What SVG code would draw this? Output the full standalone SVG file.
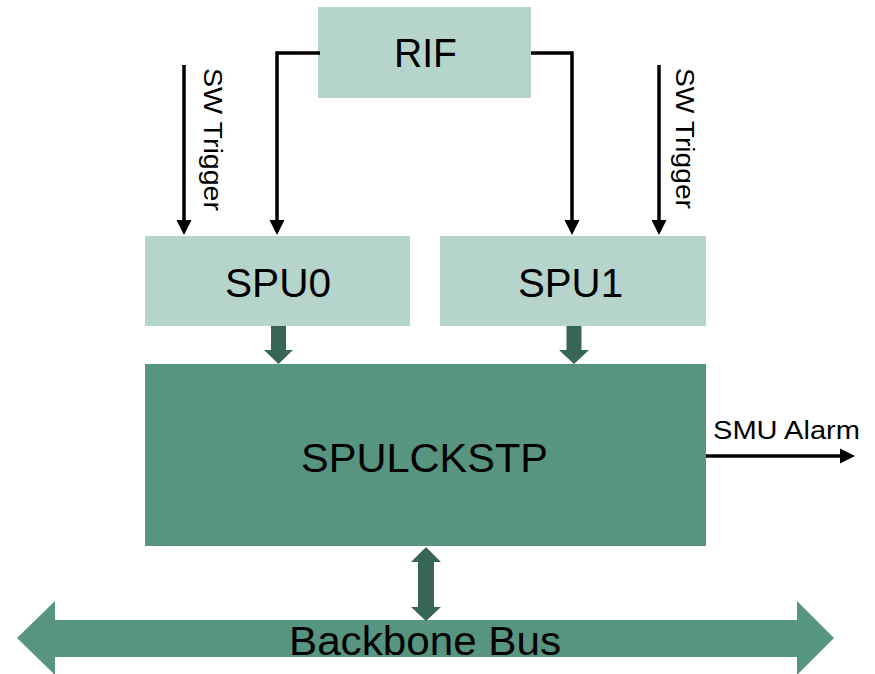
<svg xmlns="http://www.w3.org/2000/svg" width="875" height="674" viewBox="0 0 875 674">
<style>
.light{fill:#b5d4cb}
.dark{fill:#579581}
.fat{fill:#376656}
.lbl{font-family:"Liberation Sans",Arial,sans-serif;fill:#000}
.big{font-size:40px;text-anchor:middle}
.small{font-size:26px}
.wire{fill:none;stroke:#000;stroke-width:3.5}
.head{fill:#000}
</style>
<rect width="875" height="674" fill="#fff"/>
<g id="bus">
<polygon class="dark" points="17,638 55,601 55,620 797,620 797,601 834,638 797,675 797,657 55,657 55,675"/>
<text class="lbl" x="289" y="655" font-size="40" textLength="272" lengthAdjust="spacingAndGlyphs">Backbone Bus</text>
</g>
<g id="rif">
<rect class="light" x="318" y="7" width="213" height="91"/>
<text class="lbl big" x="425.5" y="67" textLength="63" lengthAdjust="spacingAndGlyphs">RIF</text>
</g>
<g id="spu0">
<rect class="light" x="145" y="236" width="265" height="90"/>
<text class="lbl big" x="278" y="297" textLength="106" lengthAdjust="spacingAndGlyphs">SPU0</text>
</g>
<g id="spu1">
<rect class="light" x="440" y="236" width="266" height="90"/>
<text class="lbl big" x="570.5" y="297" textLength="105" lengthAdjust="spacingAndGlyphs">SPU1</text>
</g>
<g id="spulckstp">
<rect class="dark" x="145" y="364" width="561" height="182"/>
<text class="lbl big" x="424.5" y="472" textLength="247" lengthAdjust="spacingAndGlyphs">SPULCKSTP</text>
</g>
<g id="connectors">
<path class="wire" d="M320,53 H277 V222"/>
<polygon class="head" points="269.5,220 284.5,220 277,235"/>
<path class="wire" d="M531,53 H572 V222"/>
<polygon class="head" points="564.5,220 579.5,220 572,235"/>
<path class="wire" d="M184,65 V222"/>
<polygon class="head" points="176.5,220 191.5,220 184,235"/>
<path class="wire" d="M659,65 V222"/>
<polygon class="head" points="651.5,220 666.5,220 659,235"/>
<path class="wire" d="M706,456 H842"/>
<polygon class="head" points="840,448.5 840,463.5 855,456"/>
<polygon class="fat" points="271,326 286,326 286,350 293,350 278.5,364 264,350 271,350"/>
<polygon class="fat" points="566.5,326 581.5,326 581.5,350 589,350 574,364 559,350 566.5,350"/>
<polygon class="fat" points="426,547 441,562 434,562 434,607 441,607 426,621 411,607 418,607 418,562 411,562"/>
</g>
<g id="labels">
<text class="lbl small" transform="translate(204,68) rotate(90)" textLength="143" lengthAdjust="spacingAndGlyphs">SW Trigger</text>
<text class="lbl small" transform="translate(676,68) rotate(90)" textLength="141" lengthAdjust="spacingAndGlyphs">SW Trigger</text>
<text class="lbl small" x="713" y="439" textLength="147" lengthAdjust="spacingAndGlyphs">SMU Alarm</text>
</g>
</svg>
